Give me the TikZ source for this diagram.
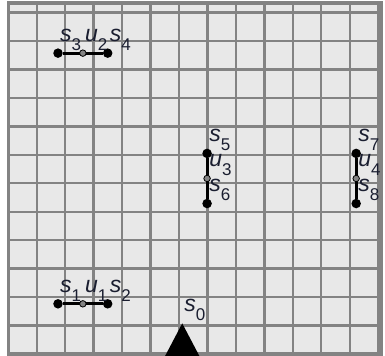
\documentclass[tikz,border=0pt]{standalone}
\usepackage{fontspec}
\setmainfont{Liberation Sans}
\definecolor{gridbg}{HTML}{E8E8E8}
\definecolor{gridgray}{HTML}{838383}
\definecolor{labcol}{HTML}{1A1E30}
\newcommand\lbl[2]{\textit{#1}\raisebox{-9pt}{\fontsize{17}{17}\selectfont #2}}
\begin{document}
\begin{tikzpicture}[x=24.85pt,y=25.07pt,
  gridline/.style={draw=gridgray,line width=2.4pt},
  bigdot/.style={circle,fill=black,inner sep=0pt,minimum size=9.5pt},
  smalldot/.style={circle,fill=gridgray,draw=black,line width=0.8pt,inner sep=0pt,minimum size=6.5pt},
  seg/.style={draw=black,line width=3pt},
  lab/.style={anchor=south west,inner sep=0pt,xshift=2pt,yshift=2.5pt,font=\fontsize{23}{23}\selectfont,text=labcol}]
\useasboundingbox (-0.334,-0.08) rectangle (15.16,14.12);
\fill[gridbg] (0,0) rectangle (15,14);
\draw[gridline] (0,0) grid (15,14);
\draw[gridline,line width=3.2pt] (0,0) rectangle (15,14);
% points
\node[bigdot] (s1) at (2,2) {};
\node[bigdot] (s2) at (4,2) {};
\node[bigdot] (s3) at (2,12) {};
\node[bigdot] (s4) at (4,12) {};
\node[bigdot] (s5) at (8,8) {};
\node[bigdot] (s6) at (8,6) {};
\node[bigdot] (s7) at (14,8) {};
\node[bigdot] (s8) at (14,6) {};
\draw[seg] (s1) -- (s2);
\draw[seg] (s3) -- (s4);
\draw[seg] (s5) -- (s6);
\draw[seg] (s7) -- (s8);
\node[smalldot] (u1) at (3,2) {};
\node[smalldot] (u2) at (3,12) {};
\node[smalldot] (u3) at (8,7) {};
\node[smalldot] (u4) at (14,7) {};
% robot
\coordinate (s0) at (7,1.22);
\fill[black] (s0) -- (6.3,-0.1) -- (7.7,-0.1) -- cycle;
% labels
\node[lab] (ls0) at (s0) {\lbl{s}{0}};
\node[lab] (ls1) at (s1.center) {\lbl{s}{1}};
\node[lab] (lu1) at (u1.center) {\lbl{u}{1}};
\node[lab] (ls2) at (s2.center) {\lbl{s}{2}};
\node[lab] (ls3) at (s3.center) {\lbl{s}{3}};
\node[lab] (lu2) at (u2.center) {\lbl{u}{2}};
\node[lab] (ls4) at (s4.center) {\lbl{s}{4}};
\node[lab] (ls5) at (s5.center) {\lbl{s}{5}};
\node[lab] (lu3) at (u3.center) {\lbl{u}{3}};
\node[lab] (ls6) at (s6.center) {\lbl{s}{6}};
\node[lab] (ls7) at (s7.center) {\lbl{s}{7}};
\node[lab] (lu4) at (u4.center) {\lbl{u}{4}};
\node[lab] (ls8) at (s8.center) {\lbl{s}{8}};
\end{tikzpicture}
\end{document}
